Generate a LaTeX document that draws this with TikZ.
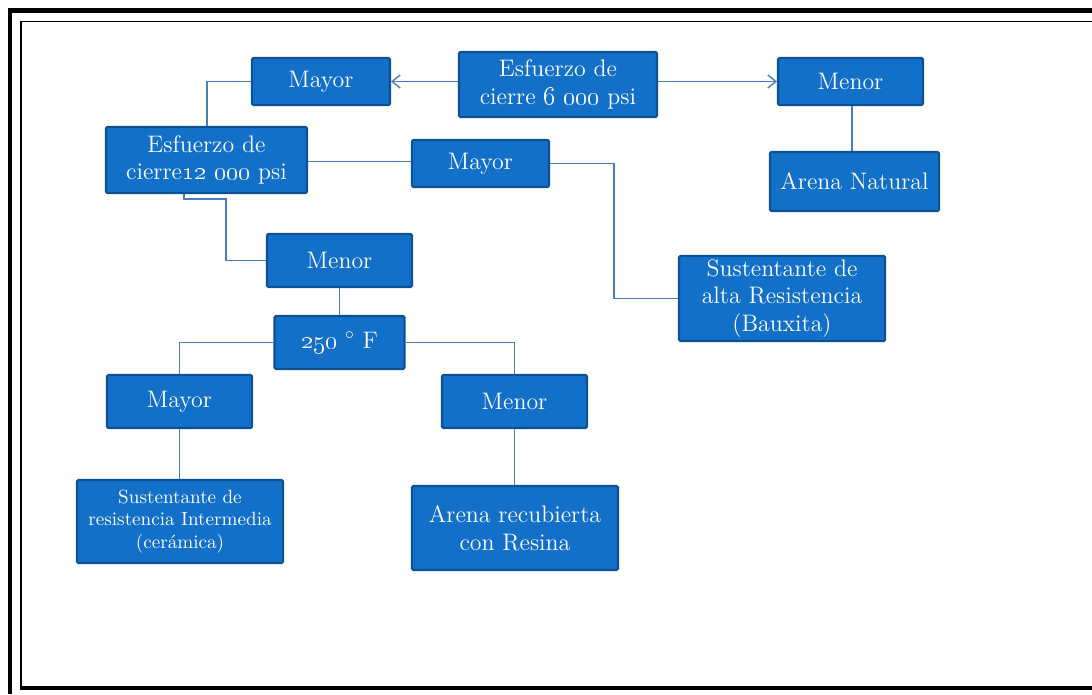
\documentclass[tikz,border=0pt]{standalone}
\usetikzlibrary{arrows.meta}

\definecolor{cajaazul}{RGB}{18,112,200}
\definecolor{bordeazul}{RGB}{12,80,150}
\definecolor{lineaazul}{RGB}{74,126,187}

\begin{document}
\begin{tikzpicture}[x=0.02cm,y=-0.02cm,
    caja/.style={draw=bordeazul, fill=cajaazul, line width=1.2pt, rounded corners=0.8pt,
      text=white, align=center, inner sep=2pt, font=\fontsize{13.6}{15.8}\selectfont},
    cajachica/.style={caja, font=\fontsize{10.9}{12.6}\selectfont},
    enlace/.style={draw=lineaazul, line width=0.8pt},
    flecha/.style={enlace, -{Straight Barb[length=1.6mm,width=2.6mm]}}]
    \useasboundingbox (0,0) rectangle (1092,694);

    % marco
    \draw[line width=2.3pt] (8,10.5) -- (1092,10.5);
    \draw[line width=2.3pt] (10,8.5) -- (10,694);
    \draw[line width=0.6pt] (20,21.5) -- (1092,21.5);
    \draw[line width=1.1pt] (21,21) -- (21,688);
    \draw[line width=2.3pt] (20,688) -- (1092,688);

    % cajas
    \node[caja, minimum width=3.96cm, minimum height=1.30cm] (esf6) at (558,84.5) {Esfuerzo de\\cierre \oldstylenums{6 000} psi};
    \node[caja, minimum width=2.76cm, minimum height=0.94cm] (may1) at (321,81.5) {Mayor};
    \node[caja, minimum width=2.90cm, minimum height=0.94cm] (men1) at (850.5,81.5) {Menor};
    \node[caja, minimum width=3.38cm, minimum height=1.18cm] (arenat) at (854.5,181.5) {Arena Natural};
    \node[caja, minimum width=4.02cm, minimum height=1.32cm] (esf12) at (206.5,160) {Esfuerzo de\\cierre\oldstylenums{12 000} psi};
    \node[caja, minimum width=2.74cm, minimum height=0.94cm] (may2) at (480.5,163.5) {Mayor};
    \node[caja, minimum width=4.12cm, minimum height=1.66cm] (susalta) at (782,298.5) {Sustentante de\\alta Resistencia\\(Bauxita)};
    \node[caja, minimum width=2.90cm, minimum height=1.06cm] (men2) at (339.5,260.5) {Menor};
    \node[caja, minimum width=2.60cm, minimum height=1.06cm] (temp) at (339.5,342.5) {\oldstylenums{250} $^\circ$ F};
    \node[caja, minimum width=2.90cm, minimum height=1.06cm] (may3) at (179.5,401.5) {Mayor};
    \node[caja, minimum width=2.90cm, minimum height=1.06cm] (men3) at (514.5,401.5) {Menor};
    \node[cajachica, minimum width=4.12cm, minimum height=1.66cm] (susint) at (180,521.5) {Sustentante de\\resistencia Intermedia\\(cerámica)};
    \node[caja, minimum width=4.12cm, minimum height=1.68cm] (arecub) at (515,528) {Arena recubierta\\con Resina};

    % conexiones
    \draw[flecha] (esf6.west |- 0,81.5) -- (may1.east);
    \draw[flecha] (esf6.east |- 0,81.5) -- (men1.west);
    \draw[enlace] (men1.south -| 852,0) -- (arenat.north -| 852,0);
    \draw[enlace] (may1.west) -- (207,81.5) -- (esf12.north -| 207,0);
    \draw[enlace] (esf12.east |- 0,161.5) -- (may2.west |- 0,161.5);
    \draw[enlace] (may2.east) -- (614,163.5) -- (614,298.5) -- (susalta.west);
    \draw[enlace] (esf12.south -| 184,0) -- (184,199) -- (226,199) -- (226,260.5) -- (men2.west);
    \draw[enlace] (men2.south) -- (temp.north);
    \draw[enlace] (temp.west) -- (179.5,342.5) -- (may3.north);
    \draw[enlace] (temp.east) -- (514.5,342.5) -- (men3.north);
    \draw[enlace] (may3.south) -- (susint.north -| may3.south);
    \draw[enlace] (men3.south) -- (arecub.north -| men3.south);
\end{tikzpicture}
\end{document}
